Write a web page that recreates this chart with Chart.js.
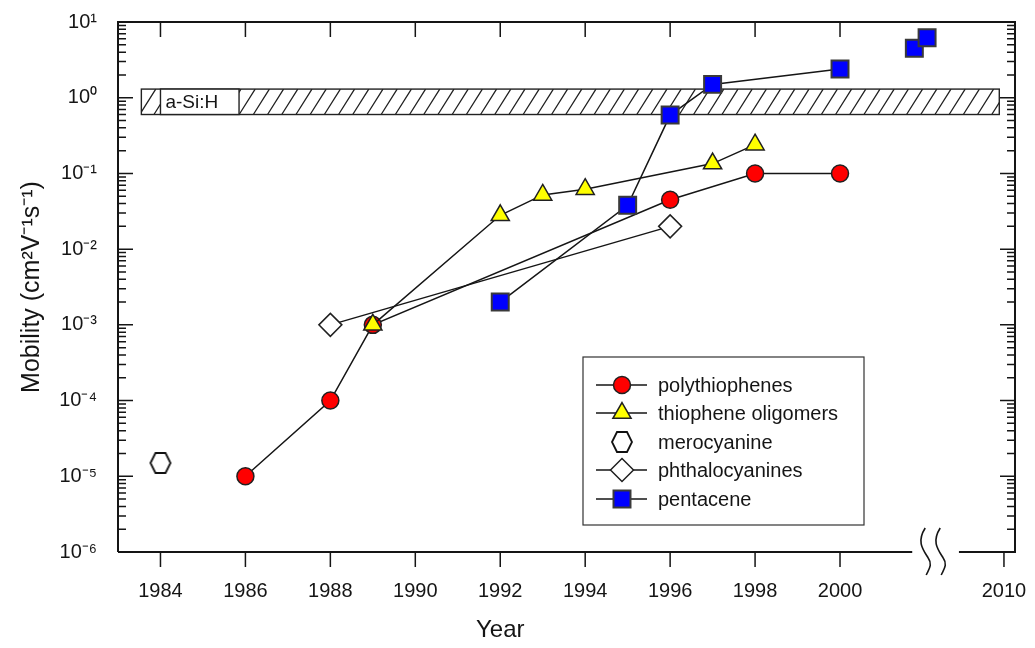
<!DOCTYPE html>
<html>
<head>
<meta charset="utf-8">
<script src="https://cdn.jsdelivr.net/npm/chart.js@4.4.1/dist/chart.umd.min.js"></script>
<style>
  html, body { margin: 0; background: #fff; }
</style>
</head>
<body>
<canvas id="chart" width="1035" height="648"></canvas>
<script>
const FONT = "'Liberation Sans', Arial, Helvetica, sans-serif";
const INK = '#151515';

// mobility data (cm2/Vs) per material class
const polyYears = [1986, 1988, 1989, 1996, 1998, 2000];
const polyMobility = [1e-5, 1e-4, 1e-3, 0.045, 0.1, 0.1];

const oligoYears = [1989, 1992, 1993, 1994, 1997, 1998];
const oligoMobility = [1e-3, 0.028, 0.052, 0.062, 0.135, 0.24];

const meroYears = [1984];
const meroMobility = [1.5e-5];

const phthaloYears = [1988, 1996];
const phthaloMobility = [1e-3, 0.02];

const pentaYears = [1992, 1995, 1996, 1997, 2000];
const pentaMobility = [0.002, 0.038, 0.59, 1.5, 2.4];
const pentaLateYears = [2001.75, 2002.05];
const pentaLateMobility = [4.5, 6.2];

// amorphous silicon reference band
const aSiMobility = [0.6, 1.3];
const aSiYears = [1983.55, 2003.75];
const aSiLabelYears = [1984, 1985.85];

// axes
const xTickYears = [1984, 1986, 1988, 1990, 1992, 1994, 1996, 1998, 2000, 2010];
const yTickPowers = [-6, -5, -4, -3, -2, -1, 0, 1];
const xRange = [1983, 2004.12];
const axisBreak = [2001.7, 2002.8];
const yearsCut = 6.14; // years removed by the axis break

const toAxis = y => (y > 2005 ? y - yearsCut : y);
const fromAxis = v => (v > 2003 ? Math.round(v + yearsCut) : v);
const pairs = (xs, ys) => xs.map((x, i) => ({ x, y: ys[i] }));

const SUP = { '-': '\u207B', '0': '\u2070', '1': '\u00B9', '2': '\u00B2', '3': '\u00B3',
  '4': '\u2074', '5': '\u2075', '6': '\u2076', '7': '\u2077', '8': '\u2078', '9': '\u2079' };
const sup = s => String(s).split('').map(ch => SUP[ch]).join('');

function hexagon(w, h) {
    const c = document.createElement('canvas');
    c.width = w + 4;
    c.height = h + 4;
    const g = c.getContext('2d');
    const cx = c.width / 2, cy = c.height / 2;
    g.beginPath();
    g.moveTo(cx - w / 2, cy);
    g.lineTo(cx - w / 4, cy - h / 2);
    g.lineTo(cx + w / 4, cy - h / 2);
    g.lineTo(cx + w / 2, cy);
    g.lineTo(cx + w / 4, cy + h / 2);
    g.lineTo(cx - w / 4, cy + h / 2);
    g.closePath();
    g.fillStyle = '#fff';
    g.fill();
    g.lineWidth = 1.8;
    g.strokeStyle = '#111';
    g.stroke();
    return c;
}
const hexMarker = hexagon(20, 20);

const pentaData = pairs(pentaYears, pentaMobility).concat(
    pentaLateYears.flatMap((x, i) => [{ x, y: null }, { x, y: pentaLateMobility[i] }])
);

const datasets = [
    {
        label: 'polythiophenes', data: pairs(polyYears, polyMobility), order: 3,
        pointStyle: 'circle', pointRadius: 8.5, backgroundColor: '#ff0000',
    },
    {
        label: 'thiophene oligomers', data: pairs(oligoYears, oligoMobility), order: 2,
        pointStyle: 'triangle', pointRadius: 10.5, backgroundColor: '#ffff00',
    },
    {
        label: 'merocyanine', data: pairs(meroYears, meroMobility), order: 4, showLine: false,
        pointStyle: hexMarker, pointRadius: 10, backgroundColor: '#fff',
    },
    {
        label: 'phthalocyanines', data: pairs(phthaloYears, phthaloMobility), order: 4,
        pointStyle: 'rectRot', pointRadius: 11.5, backgroundColor: '#fff',
    },
    {
        label: 'pentacene', data: pentaData, order: 1,
        pointStyle: 'rect', pointRadius: 12, backgroundColor: '#0000ff', pointBorderColor: '#3a3a3a', pointBorderWidth: 2,
    },
].map(d => ({
    borderColor: INK,
    borderWidth: 1.5,
    pointBorderColor: '#202020',
    pointBorderWidth: 1.5,
    pointHoverRadius: d.pointRadius,
    spanGaps: false,
    ...d,
}));

function drawMarker(ctx, ds, x, y) {
    ctx.save();
    ctx.fillStyle = ds.backgroundColor;
    ctx.strokeStyle = ds.pointBorderColor;
    ctx.lineWidth = ds.pointBorderWidth;
    Chart.helpers.drawPoint(ctx, { pointStyle: ds.pointStyle, radius: ds.pointRadius, borderWidth: ds.pointBorderWidth, rotation: 0 }, x, y);
    ctx.restore();
}

const bandPlugin = {
    id: 'aSiBand',
    beforeDatasetsDraw(chart) {
        const { ctx, scales: { x, y } } = chart;
        const x0 = x.getPixelForValue(aSiYears[0]), x1 = x.getPixelForValue(aSiYears[1]);
        const yT = y.getPixelForValue(aSiMobility[1]), yB = y.getPixelForValue(aSiMobility[0]);
        ctx.save();
        ctx.fillStyle = '#fff';
        ctx.fillRect(x0, yT, x1 - x0, yB - yT);
        ctx.beginPath();
        ctx.rect(x0, yT, x1 - x0, yB - yT);
        ctx.clip();
        ctx.beginPath();
        for (let px = x0 - 30; px < x1 + 30; px += 14.2) {
            ctx.moveTo(px, yB);
            ctx.lineTo(px + 16, yT);
        }
        ctx.strokeStyle = '#222';
        ctx.lineWidth = 1.3;
        ctx.stroke();
        ctx.restore();

        ctx.save();
        ctx.strokeStyle = '#222';
        ctx.lineWidth = 1.4;
        ctx.strokeRect(x0, yT, x1 - x0, yB - yT);
        const l0 = x.getPixelForValue(aSiLabelYears[0]), l1 = x.getPixelForValue(aSiLabelYears[1]);
        ctx.fillStyle = '#fff';
        ctx.fillRect(l0, yT, l1 - l0, yB - yT);
        ctx.strokeRect(l0, yT, l1 - l0, yB - yT);
        ctx.fillStyle = INK;
        ctx.font = `19px ${FONT}`;
        ctx.textBaseline = 'middle';
        ctx.fillText('a-Si:H', l0 + 5, (yT + yB) / 2 + 1);
        ctx.restore();
    },
};

const framePlugin = {
    id: 'frame',
    afterDraw(chart) {
        const { ctx, chartArea: a, scales: { x, y } } = chart;
        ctx.save();
        ctx.strokeStyle = INK;
        ctx.lineWidth = 2;
        const g0 = x.getPixelForValue(axisBreak[0]), g1 = x.getPixelForValue(axisBreak[1]);
        ctx.beginPath();
        ctx.moveTo(a.left, a.bottom);
        ctx.lineTo(a.left, a.top);
        ctx.lineTo(a.right, a.top);
        ctx.lineTo(a.right, a.bottom);
        ctx.lineTo(g1, a.bottom);
        ctx.moveTo(g0, a.bottom);
        ctx.lineTo(a.left, a.bottom);
        ctx.stroke();

        // log ticks, inward on both sides
        ctx.lineWidth = 1.5;
        ctx.beginPath();
        yTickPowers.forEach(p => {
            for (let m = 1; m <= 9; m++) {
                const v = m * Math.pow(10, p);
                if (v > 10.0001) continue;
                const py = y.getPixelForValue(v);
                const len = m === 1 ? 15 : 8;
                ctx.moveTo(a.left, py); ctx.lineTo(a.left + len, py);
                ctx.moveTo(a.right, py); ctx.lineTo(a.right - len, py);
            }
        });
        // year ticks: outward at bottom, inward at top
        xTickYears.forEach(yr => {
            const px = x.getPixelForValue(toAxis(yr));
            ctx.moveTo(px, a.bottom); ctx.lineTo(px, a.bottom + 15);
            if (yr <= 2000) { ctx.moveTo(px, a.top); ctx.lineTo(px, a.top + 15); }
        });
        ctx.stroke();

        // break marks
        ctx.lineWidth = 1.6;
        ctx.beginPath();
        [g0 + 13, g0 + 28].forEach(bx => {
            ctx.moveTo(bx, a.bottom - 24);
            ctx.bezierCurveTo(bx - 9, a.bottom - 10, bx - 2, a.bottom - 2, bx + 3, a.bottom + 6);
            ctx.bezierCurveTo(bx + 8, a.bottom + 13, bx + 3, a.bottom + 18, bx + 1, a.bottom + 23);
        });
        ctx.stroke();

        // x axis title, centred under the 1983-2000 span
        ctx.fillStyle = INK;
        ctx.font = `24px ${FONT}`;
        ctx.textAlign = 'center';
        ctx.textBaseline = 'middle';
        ctx.fillText('Year', x.getPixelForValue(1992), 630);

        // legend
        const bx0 = 583, by0 = 357, bw = 281, bh = 168;
        ctx.fillStyle = '#fff';
        ctx.fillRect(bx0, by0, bw, bh);
        ctx.strokeStyle = '#333';
        ctx.lineWidth = 1.2;
        ctx.strokeRect(bx0, by0, bw, bh);
        const rows = [385, 413, 442, 470, 499];
        datasets.forEach((ds, i) => {
            const ly = rows[i];
            if (ds.showLine !== false) {
                ctx.strokeStyle = INK;
                ctx.lineWidth = 1.5;
                ctx.beginPath();
                ctx.moveTo(bx0 + 13, ly); ctx.lineTo(bx0 + 64, ly);
                ctx.stroke();
            }
            drawMarker(ctx, ds, bx0 + 39, ly);
            ctx.fillStyle = INK;
            ctx.font = `20px ${FONT}`;
            ctx.textAlign = 'left';
            ctx.fillText(ds.label, bx0 + 75, ly + 1);
        });
        ctx.restore();
    },
};

new Chart(document.getElementById('chart'), {
    type: 'line',
    data: { datasets },
    options: {
        responsive: false,
        animation: false,
        devicePixelRatio: 1,
        layout: { padding: { top: 22, right: 20, left: 0, bottom: 0 } },
        plugins: {
            legend: { display: false },
            tooltip: { enabled: false },
        },
        scales: {
            x: {
                type: 'linear',
                min: xRange[0],
                max: xRange[1],
                afterFit: s => { s.height = 96; s.paddingLeft = 0; s.paddingRight = 0; },
                afterBuildTicks: s => { s.ticks = xTickYears.map(v => ({ value: toAxis(v) })); },
                grid: { display: false, drawTicks: false },
                border: { display: false },
                ticks: {
                    autoSkip: false,
                    maxRotation: 0,
                    padding: 27,
                    color: INK,
                    font: { family: FONT, size: 20 },
                    callback: v => String(fromAxis(v)),
                },
            },
            y: {
                type: 'logarithmic',
                min: 1e-6,
                max: 10,
                afterFit: s => { s.width = 118; s.paddingTop = 0; s.paddingBottom = 0; },
                afterBuildTicks: s => { s.ticks = yTickPowers.map(p => ({ value: Math.pow(10, p) })); },
                grid: { display: false, drawTicks: false },
                border: { display: false },
                ticks: {
                    padding: 21,
                    color: INK,
                    font: { family: FONT, size: 20 },
                    callback: v => '10' + sup(Math.round(Math.log10(v))),
                },
                title: {
                    display: true,
                    text: 'Mobility (cm\u00B2V\u207B\u00B9s\u207B\u00B9)',
                    color: INK,
                    font: { family: FONT, size: 25 },
                    padding: { top: 17, bottom: 0 },
                },
            },
        },
    },
    plugins: [bandPlugin, framePlugin],
});
</script>
</body>
</html>
